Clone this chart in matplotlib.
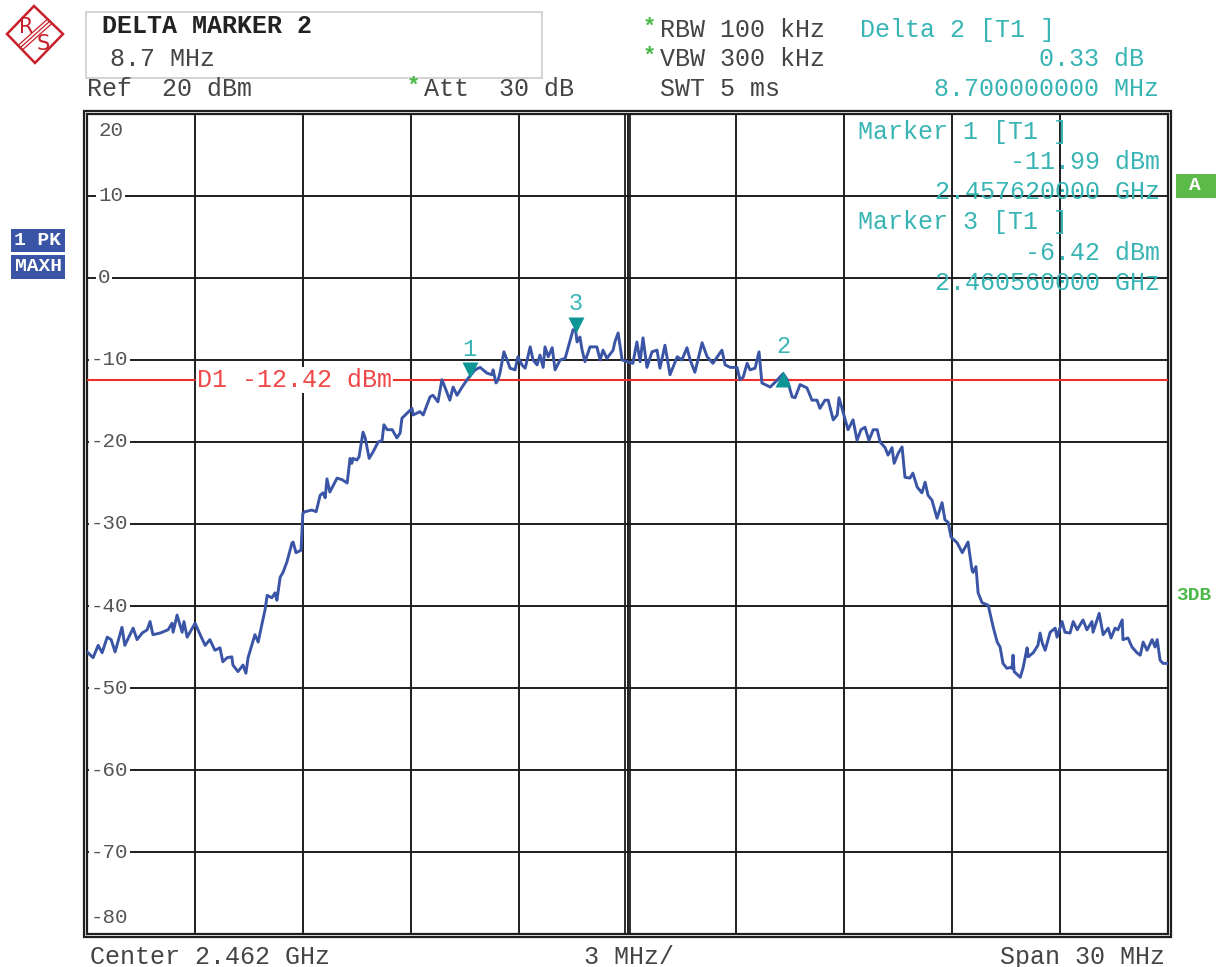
import matplotlib
matplotlib.use("Agg")
import matplotlib.pyplot as plt
from matplotlib import transforms
from matplotlib.patches import Rectangle, Polygon

# sweep settings
START_MHZ = 2447.0
SPAN_MHZ = 30.0
REF_DBM = 20.0
D1_DBM = -12.42

# trace (max hold), offset from start in MHz / level in dBm
trace_mhz = [
    0.00, 0.17, 0.31, 0.42, 0.56, 0.67, 0.78, 0.97, 1.05, 1.28, 1.39, 1.53, 1.67, 1.75, 1.83,
    2.03, 2.25, 2.36, 2.39, 2.50, 2.64, 2.69, 2.78, 3.00, 3.14, 3.28, 3.41, 3.55, 3.69, 3.77,
    3.89, 4.02, 4.05, 4.19, 4.33, 4.41, 4.47, 4.66, 4.75, 4.86, 4.94, 5.00, 5.13, 5.22, 5.27,
    5.36, 5.44, 5.55, 5.69, 5.72, 5.80, 5.94, 5.99, 6.05, 6.24, 6.36, 6.47, 6.55, 6.61, 6.66,
    6.74, 6.94, 7.08, 7.22, 7.30, 7.35, 7.38, 7.49, 7.55, 7.66, 7.72, 7.83, 7.94, 8.08, 8.19,
    8.24, 8.33, 8.47, 8.60, 8.69, 8.74, 8.88, 9.02, 9.05, 9.24, 9.33, 9.52, 9.60, 9.74, 9.85,
    9.94, 10.07, 10.16, 10.27, 10.41, 10.55, 10.62, 10.77, 10.91, 11.10, 11.24, 11.27, 11.35,
    11.41, 11.46, 11.57, 11.66, 11.74, 11.88, 11.96, 12.07, 12.16, 12.30, 12.38, 12.49, 12.57,
    12.66, 12.71, 12.80, 12.91, 12.99, 13.13, 13.27, 13.41, 13.49, 13.56, 13.60, 13.68, 13.74,
    13.82, 13.96, 14.15, 14.24, 14.32, 14.43, 14.60, 14.65, 14.74, 14.85, 14.99, 15.15, 15.26,
    15.35, 15.43, 15.54, 15.68, 15.82, 15.90, 16.04, 16.18, 16.38, 16.51, 16.65, 16.74, 16.87,
    17.07, 17.21, 17.37, 17.62, 17.71, 17.85, 18.04, 18.12, 18.21, 18.32, 18.40, 18.54, 18.65,
    18.73, 18.96, 19.10, 19.32, 19.43, 19.57, 19.65, 19.79, 19.98, 20.12, 20.26, 20.34, 20.48,
    20.57, 20.71, 20.82, 20.87, 20.98, 21.12, 21.26, 21.37, 21.48, 21.59, 21.70, 21.82, 21.93,
    22.01, 22.15, 22.23, 22.34, 22.40, 22.51, 22.62, 22.70, 22.84, 22.92, 23.04, 23.17, 23.26,
    23.34, 23.45, 23.59, 23.73, 23.81, 23.90, 23.98, 24.15, 24.29, 24.45, 24.56, 24.59, 24.67,
    24.73, 24.84, 25.01, 25.15, 25.26, 25.34, 25.42, 25.53, 25.62, 25.67, 25.70, 25.73, 25.90,
    25.98, 26.09, 26.12, 26.26, 26.39, 26.45, 26.51, 26.59, 26.73, 26.87, 26.92, 27.06, 27.14,
    27.28, 27.37, 27.48, 27.64, 27.75, 27.89, 27.92, 28.09, 28.20, 28.34, 28.42, 28.53, 28.61,
    28.73, 28.75, 28.89, 29.00, 29.14, 29.23, 29.31, 29.42, 29.56, 29.64, 29.70, 29.78, 29.86,
    29.97,
]
trace_dbm = [
    -45.6, -46.3, -44.8, -45.7, -43.8, -44.1, -45.6, -42.6, -44.8, -42.7, -44.1, -43.3, -42.9, -41.9, -43.5,
    -43.3, -42.9, -42.1, -43.2, -41.1, -43.2, -41.9, -43.8, -42.1, -43.5, -44.8, -44.1, -45.4, -45.1, -46.8,
    -46.3, -46.2, -47.2, -48.0, -47.2, -48.2, -46.3, -43.5, -44.4, -42.1, -40.5, -38.7, -39.0, -38.4, -39.3,
    -36.5, -35.9, -34.6, -32.3, -32.2, -33.5, -33.2, -28.7, -28.5, -28.3, -28.5, -26.5, -26.2, -26.8, -24.5,
    -26.1, -24.4, -24.6, -25.0, -22.0, -22.6, -22.0, -22.2, -21.8, -18.8, -19.5, -22.0, -21.2, -20.0, -19.8,
    -17.9, -18.5, -18.5, -19.5, -18.9, -17.1, -16.5, -15.9, -16.7, -16.3, -16.7, -14.5, -14.3, -15.1, -12.4,
    -13.4, -14.9, -13.3, -14.3, -13.3, -12.4, -11.99, -11.2, -10.9, -11.6, -11.8, -11.2, -12.8,
    -12.4, -11.6, -9.0, -10.0, -11.0, -11.2, -9.6, -10.6, -11.0, -8.4, -10.0, -10.6, -9.4,
    -10.9, -8.4, -9.6, -8.5, -11.2, -10.0, -9.8, -7.6, -6.3, -6.42, -7.8, -7.2, -8.8,
    -10.2, -8.4, -8.4, -10.0, -8.8, -9.8, -8.8, -7.8, -6.7, -10.0, -10.2, -10.4, -7.8,
    -10.2, -7.3, -10.9, -9.0, -8.8, -11.0, -8.2, -11.8, -9.6, -10.0, -8.5, -10.0, -11.5,
    -7.9, -9.6, -10.4, -8.8, -10.6, -10.9, -10.9, -12.4, -12.1, -10.4, -11.2, -11.0, -9.0,
    -12.8, -13.3, -12.7, -11.66, -12.4, -14.5, -14.6, -13.0, -13.4, -14.9, -14.9, -15.9, -14.9,
    -14.9, -17.3, -16.7, -14.6, -16.3, -18.5, -17.3, -19.8, -18.5, -18.2, -19.8, -18.5, -18.5,
    -20.0, -20.7, -21.6, -20.7, -22.6, -21.4, -20.6, -24.3, -24.4, -23.8, -25.5, -26.2, -24.9,
    -26.5, -27.1, -29.3, -27.4, -29.5, -29.8, -31.6, -32.3, -33.5, -32.2, -35.6, -35.9, -35.2,
    -38.4, -39.6, -39.9, -42.6, -44.4, -45.0, -47.0, -47.6, -47.5, -47.6, -46.0, -48.0, -48.7,
    -47.5, -45.1, -46.2, -45.7, -44.8, -43.3, -44.5, -45.4, -43.2, -42.7, -43.8, -41.9, -43.2,
    -43.3, -41.9, -42.9, -41.7, -42.9, -41.9, -43.2, -40.9, -43.5, -42.7, -43.9, -42.7, -42.9,
    -41.7, -44.1, -43.9, -45.0, -45.7, -46.0, -44.4, -45.4, -44.1, -45.0, -44.1, -46.6, -47.0,
    -47.0,
]

# markers: (label, freq MHz, level dBm, kind)
marker_labels = ["1", "3", "2"]
marker_freq = [2457.62, 2460.56, 2466.32]
marker_level = [-11.99, -6.42, -11.66]
marker_kind = ["v", "v", "^"]

ytick_vals = [20, 10, 0, -10, -20, -30, -40, -50, -60, -70, -80]

MONO = ["Liberation Mono", "DejaVu Sans Mono"]
GRAY = "#444444"
TEAL = "#38b4b4"
GREEN = "#4cb848"
BLUE = "#3a55a6"
RED = "#e8302e"

W, H = 1220, 967
fig = plt.figure(figsize=(W / 100, H / 100), dpi=100)
fig.patch.set_facecolor("white")


def fx(x):
    return x / W


def fy(y):
    return 1 - y / H


L, R, T, B = 87, 1168, 114, 934
ax = fig.add_axes([fx(L), fy(B), (R - L) / W, (B - T) / H])
ax.set_xlim(0, SPAN_MHZ)
ax.set_ylim(-80, REF_DBM)
ax.set_xticks(range(0, 31, 3))
ax.set_yticks(range(-80, 21, 10))
ax.tick_params(length=0, labelbottom=False, labelleft=False)
ax.grid(True, color="#1e1e1e", lw=1.4)
ax.set_axisbelow(True)
for s in ax.spines.values():
    s.set_color("#1e1e1e")
    s.set_linewidth(1.6)

# outer frame line (double border)
fig.patches.append(Rectangle((fx(L - 3), fy(B + 3)), (R - L + 6) / W, (B - T + 6) / H,
                             transform=fig.transFigure, fill=False, ec="#1e1e1e", lw=1.6))
# doubled centre line
for dx in (-2.5, 2.5):
    tr = transforms.offset_copy(ax.get_xaxis_transform(), fig=fig, x=dx, units="dots")
    ax.plot([SPAN_MHZ / 2, SPAN_MHZ / 2], [0, 1], transform=tr, color="#1e1e1e", lw=1.3)

# y labels inside the grid
ytr = ax.get_yaxis_transform()
for v in ytick_vals:
    xa = 0.0102 if v >= 0 else 0.0037
    va = "top" if v == 20 else ("bottom" if v == -80 else "center")
    yy = v - 0.9 if v == 20 else (v + 0.9 if v == -80 else v)
    ax.text(xa, yy, str(v), transform=ytr, family=MONO, fontsize=15, color="#555555",
            va=va, ha="left",
            bbox=dict(boxstyle="square,pad=0.08", fc="white", ec="none") if v not in (20, -80) else None)

# display line D1
ax.axhline(D1_DBM, color=RED, lw=1.5, zorder=3)
ax.text(3.05, D1_DBM, "D1 -12.42 dBm", family=MONO, fontsize=18, color="#f04848",
        va="center", ha="left", zorder=4,
        bbox=dict(boxstyle="square,pad=0.05", fc="white", ec="none"))

# trace
ax.plot(trace_mhz, trace_dbm, color=BLUE, lw=2.1, zorder=5)

# markers
for lab, f, lv, kind in zip(marker_labels, marker_freq, marker_level, marker_kind):
    off = 6 if kind == "v" else -5
    tr = transforms.offset_copy(ax.transData, fig=fig, y=off, units="dots")
    ax.plot([f - START_MHZ], [lv], marker=kind, color="#0e9696", ms=11, mec="none",
            transform=tr, zorder=6)
    tr2 = transforms.offset_copy(ax.transData, fig=fig, y=27, units="dots")
    ax.text(f - START_MHZ, lv, lab, transform=tr2, family=MONO, fontsize=17, color=TEAL,
            ha="center", va="center", zorder=6)

# marker info block in the grid
info = [
    ("Marker 1 [T1 ]", 858, 132, "left"),
    ("-11.99 dBm", 1160, 162, "right"),
    ("2.457620000 GHz", 1160, 192, "right"),
    ("Marker 3 [T1 ]", 858, 222, "left"),
    ("-6.42 dBm", 1160, 253, "right"),
    ("2.460560000 GHz", 1160, 283, "right"),
]
for s, x, y, ha in info:
    fig.text(fx(x), fy(y), s, family=MONO, fontsize=18, color=TEAL, ha=ha, va="center")

# header
fig.patches.append(Rectangle((fx(86), fy(78)), (542 - 86) / W, (78 - 12) / H,
                             transform=fig.transFigure, fill=False, ec="#cccccc", lw=1.2))
fig.text(fx(102), fy(26), "DELTA MARKER 2", family=MONO, fontsize=18, weight="bold",
         color="#222222", va="center")
fig.text(fx(110), fy(59), "8.7 MHz", family=MONO, fontsize=18, color=GRAY, va="center")
fig.text(fx(87), fy(89), "Ref  20 dBm", family=MONO, fontsize=18, color=GRAY, va="center")
fig.text(fx(424), fy(89), "Att  30 dB", family=MONO, fontsize=18, color=GRAY, va="center")
fig.text(fx(660), fy(30), "RBW 100 kHz", family=MONO, fontsize=18, color=GRAY, va="center")
fig.text(fx(660), fy(59), "VBW 300 kHz", family=MONO, fontsize=18, color=GRAY, va="center")
fig.text(fx(660), fy(89), "SWT 5 ms", family=MONO, fontsize=18, color=GRAY, va="center")
for sx, sy in [(649, 27), (649, 56), (413, 86)]:
    fig.text(fx(sx), fy(sy), "*", family=MONO, fontsize=16, weight="bold", color=GREEN,
             ha="center", va="center")
fig.text(fx(860), fy(30), "Delta 2 [T1 ]", family=MONO, fontsize=18, color=TEAL, va="center")
fig.text(fx(1144), fy(59), "0.33 dB", family=MONO, fontsize=18, color=TEAL, va="center", ha="right")
fig.text(fx(1159), fy(89), "8.700000000 MHz", family=MONO, fontsize=18, color=TEAL,
         va="center", ha="right")

# bottom line
fig.text(fx(90), fy(957), "Center 2.462 GHz", family=MONO, fontsize=18, color=GRAY, va="center")
fig.text(fx(629), fy(957), "3 MHz/", family=MONO, fontsize=18, color=GRAY, va="center", ha="center")
fig.text(fx(1165), fy(957), "Span 30 MHz", family=MONO, fontsize=18, color=GRAY,
         va="center", ha="right")

# side labels
for s, y0, y1 in [("1 PK", 229, 252), ("MAXH", 255, 279)]:
    fig.patches.append(Rectangle((fx(11), fy(y1)), 54 / W, (y1 - y0) / H,
                                 transform=fig.transFigure, fc=BLUE, ec="none"))
    fig.text(fx(38), fy((y0 + y1) / 2), s, family=MONO, fontsize=14, weight="bold",
             color="white", ha="center", va="center")
fig.patches.append(Rectangle((fx(1176), fy(198)), 40 / W, 24 / H,
                             transform=fig.transFigure, fc="#5cba48", ec="none"))
fig.text(fx(1195), fy(186), "A", family=MONO, fontsize=14, weight="bold", color="white",
         ha="center", va="center")
fig.text(fx(1176), fy(596), "3DB", family=MONO, fontsize=14, weight="bold", color=GREEN,
         ha="left", va="center")

# R&S logo
lg = fig.add_axes([0, fy(70), 70 / W, 70 / H])
lg.set_xlim(0, 70)
lg.set_ylim(70, 0)
lg.axis("off")
lg.add_patch(Polygon([(7, 34), (34, 6), (63, 34), (35, 63)], closed=True, fill=False,
                     ec="#c8202a", lw=1.8))
for d in (-2.2, 0, 2.2):
    lg.plot([50 + d, 21 + d], [21 + d, 47 + d], color="#c8202a", lw=0.9)
lg.text(26, 27, "R", fontsize=15, color="#c8202a", ha="center", va="center", family="DejaVu Sans")
lg.text(43, 44, "S", fontsize=15, color="#c8202a", ha="center", va="center", family="DejaVu Sans")

fig.savefig("out.png", dpi=100)
